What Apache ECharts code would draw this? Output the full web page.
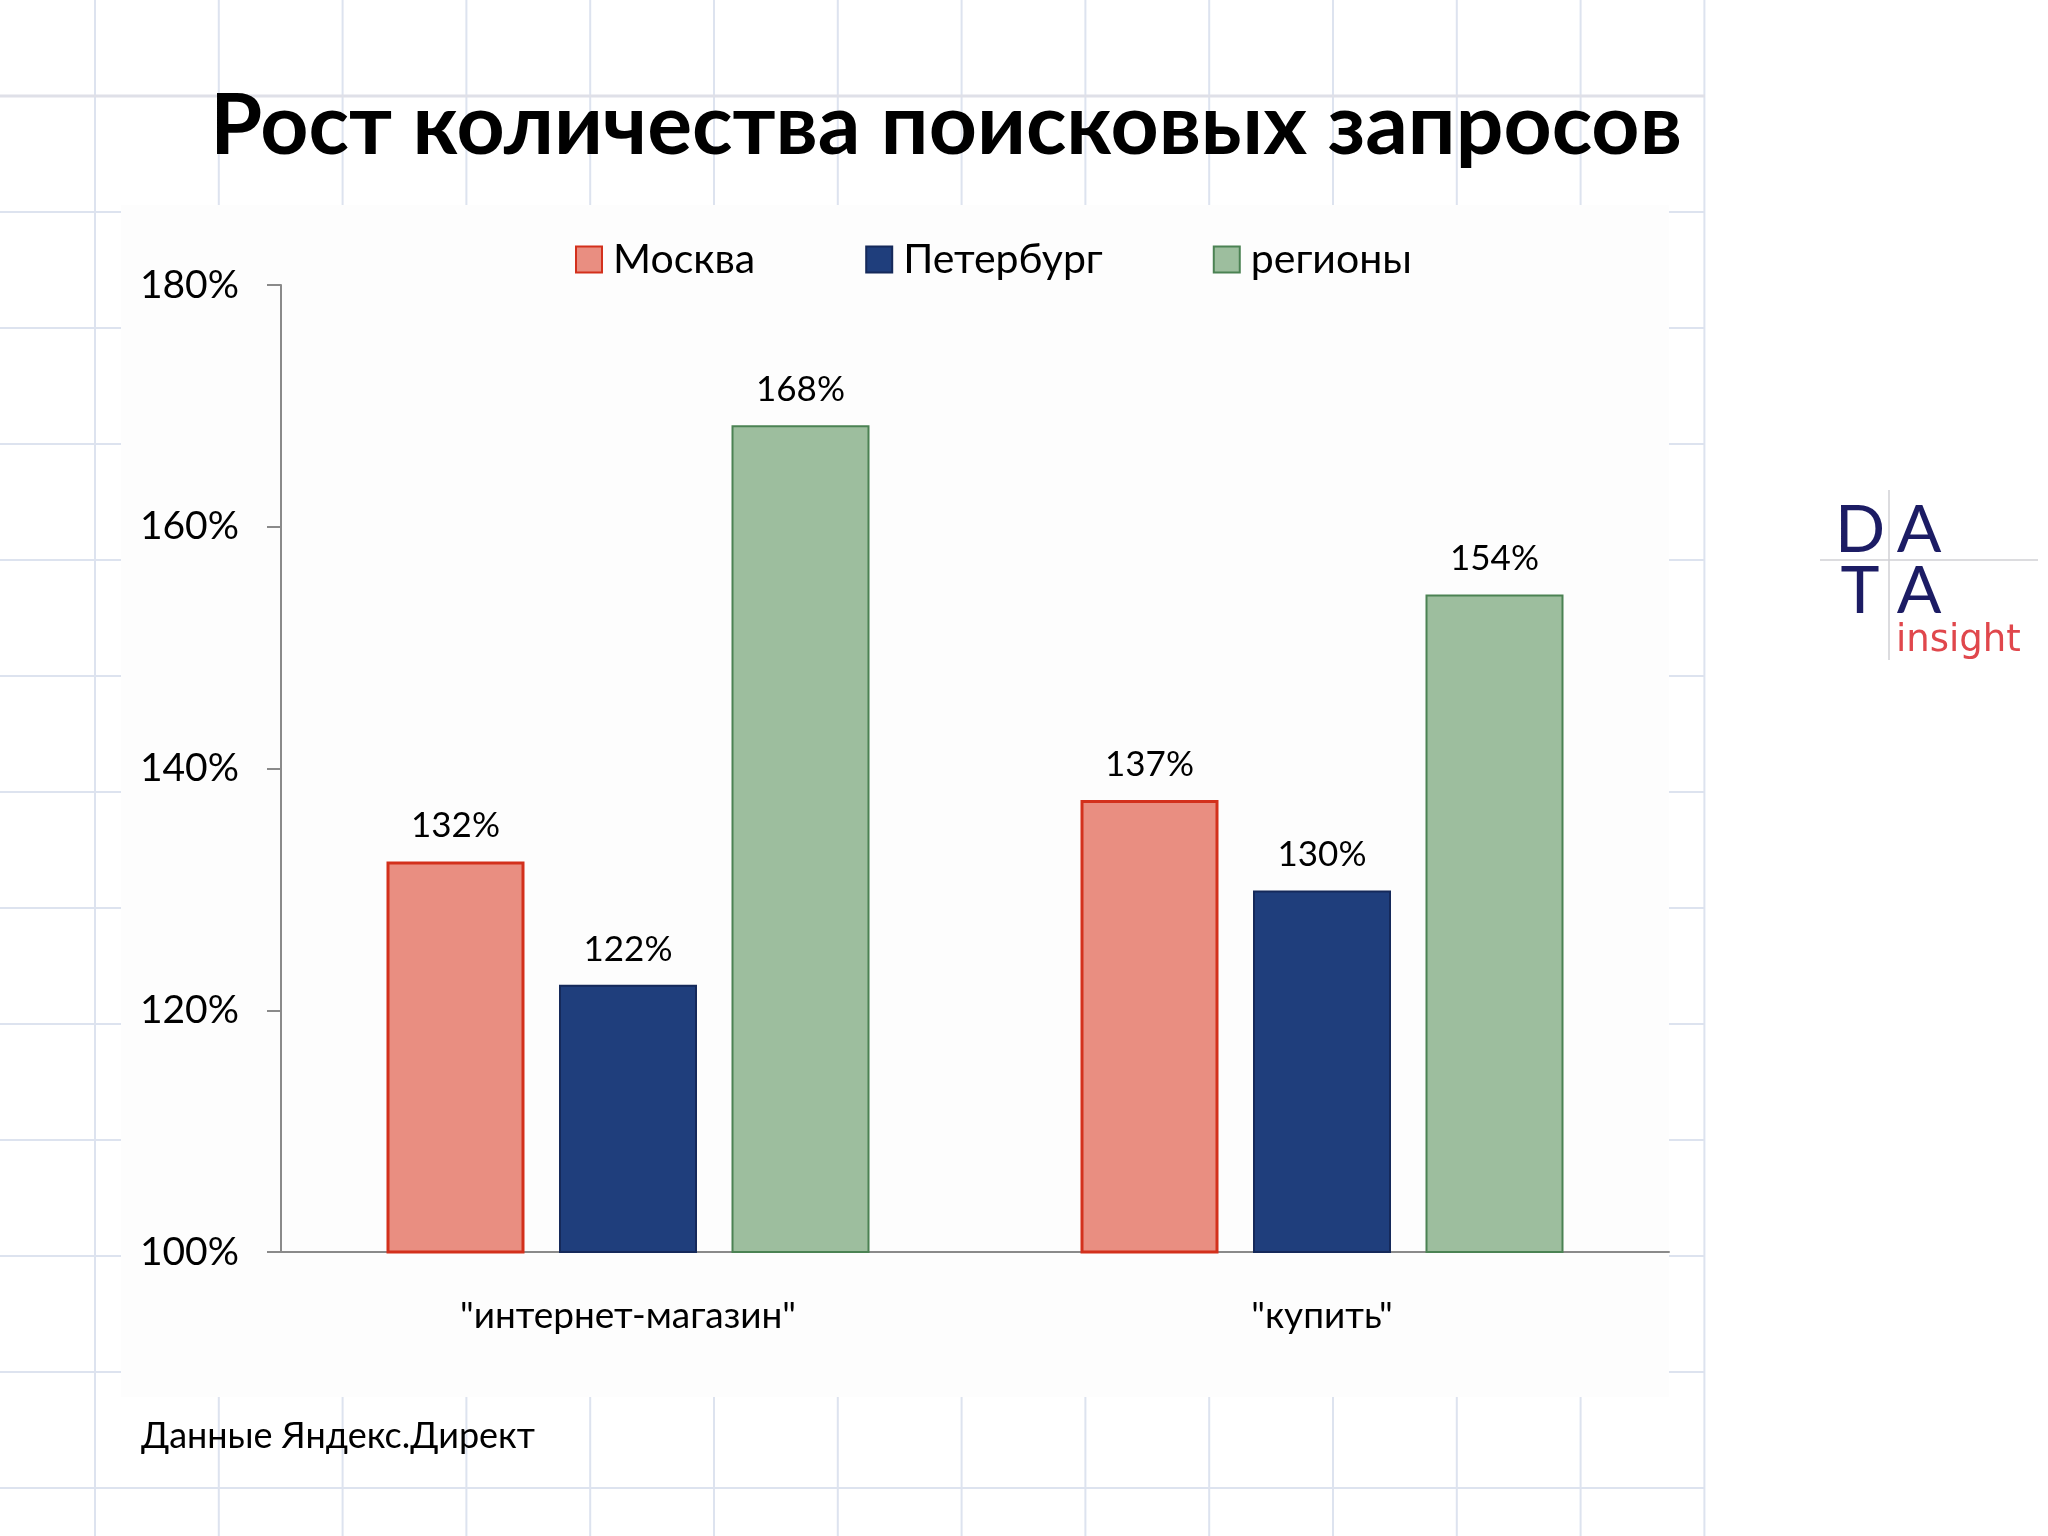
<!DOCTYPE html>
<html>
<head>
<meta charset="utf-8">
<script src="https://cdn.jsdelivr.net/npm/echarts@6/dist/echarts.min.js"></script>
<style>
  html, body { margin: 0; padding: 0; background: #ffffff; }
  #chart { width: 2048px; height: 1536px; }
</style>
</head>
<body>
<div id="chart"></div>
<script>
// ---- data ----
const titleText = 'Рост количества поисковых запросов';
const sourceText = 'Данные Яндекс.Директ';
const categories = ['"интернет-магазин"', '"купить"'];
const seriesNames = ['Москва', 'Петербург', 'регионы'];
const moscow = [132.3, 137.4];
const spb = [122.1, 129.9];
const regions = [168.4, 154.4];
const yMin = 100, yMax = 180, yStep = 20;

// ---- decoration: slide background grid ----
const gridColor = '#dde3ef';
const graphics = [];
const vLines = [];
for (let k = 0; k < 14; k++) vLines.push(95 + k * 123.8);
const hLines = [];
for (let k = 0; k < 13; k++) hLines.push(96 + k * 116);
vLines.forEach(x => graphics.push({
  type: 'line', z: -3, shape: { x1: x, y1: 0, x2: x, y2: 1536 },
  style: { stroke: gridColor, lineWidth: 2 }
}));
hLines.forEach((y, i) => graphics.push({
  type: 'line', z: -3, shape: { x1: 0, y1: y, x2: 1705, y2: y },
  style: { stroke: i === 0 ? '#dfe0e8' : gridColor, lineWidth: i === 0 ? 3 : 2 }
}));
// white chart panel
graphics.push({ type: 'rect', z: -2, shape: { x: 121, y: 205, width: 1548, height: 1192 }, style: { fill: '#fdfdfd' } });
// title
graphics.push({ type: 'text', z: 5, style: { text: titleText, x: 946, y: 127, textAlign: 'center', textVerticalAlign: 'middle', font: 'bold 84px Lato', fill: '#000' } });
// source
graphics.push({ type: 'text', z: 5, style: { text: sourceText, x: 141, y: 1436, textAlign: 'left', textVerticalAlign: 'middle', font: '36px Lato', fill: '#000' } });
// logo
graphics.push({ type: 'line', z: 5, shape: { x1: 1889, y1: 490, x2: 1889, y2: 660 }, style: { stroke: '#d0d0d4', lineWidth: 1.5 } });
graphics.push({ type: 'line', z: 5, shape: { x1: 1820, y1: 560, x2: 2038, y2: 560 }, style: { stroke: '#d0d0d4', lineWidth: 1.5 } });
const logoFont = '66px Lato';
[['D', 1860, 531], ['A', 1919, 531], ['T', 1860, 592], ['A', 1919, 592]].forEach(t => graphics.push({
  type: 'text', z: 6, style: { text: t[0], x: t[1], y: t[2], textAlign: 'center', textVerticalAlign: 'middle', font: logoFont, fill: '#1c1c64' }
}));
graphics.push({ type: 'text', z: 6, style: { text: 'insight', x: 1896, y: 641, textAlign: 'left', textVerticalAlign: 'middle', font: '37px "DejaVu Sans"', fill: '#e0474c' } });

const fills = ['#e98e81', '#1f3e7c', '#9dbe9e'];
const borders = ['#d3301c', '#15295a', '#4b8253'];
const borderW = [3, 2, 2];
const dataSets = [moscow, spb, regions];

const chart = echarts.init(document.getElementById('chart'), null, { renderer: 'canvas' });
chart.setOption({
  animation: false,
  backgroundColor: '#ffffff',
  graphic: graphics,
  legend: {
    left: 570, top: 234,
    itemWidth: 26, itemHeight: 26, itemGap: 110,
    icon: 'rect',
    textStyle: { fontFamily: 'Lato', fontSize: 41, color: '#000', padding: [0, 0, 0, 6] },
    data: seriesNames
  },
  grid: { left: 281, right: 379, top: 285, bottom: 284, containLabel: false },
  xAxis: {
    type: 'category',
    data: categories,
    axisLine: { show: true, lineStyle: { color: '#8a8a8a', width: 2 } },
    axisTick: { show: false },
    axisLabel: { fontFamily: 'Lato', fontSize: 37, color: '#000', margin: 42, lineHeight: 44 },
    splitLine: { show: false }
  },
  yAxis: {
    type: 'value',
    min: yMin, max: yMax, interval: yStep,
    axisLine: { show: true, lineStyle: { color: '#8a8a8a', width: 2 } },
    axisTick: { show: true, inside: false, length: 14, lineStyle: { color: '#8a8a8a', width: 2 } },
    axisLabel: { fontFamily: 'Lato', fontSize: 39, color: '#000', margin: 42, formatter: '{value}%' },
    splitLine: { show: false }
  },
  series: seriesNames.map((name, i) => ({
    name: name,
    type: 'bar',
    data: dataSets[i],
    barWidth: 138,
    barGap: '25%',
    itemStyle: { color: fills[i], borderColor: borders[i], borderWidth: borderW[i] },
    label: {
      show: true, position: 'top', distance: 18,
      fontFamily: 'Lato', fontSize: 35, color: '#000',
      formatter: p => Math.round(p.value) + '%'
    }
  }))
});
</script>
</body>
</html>
